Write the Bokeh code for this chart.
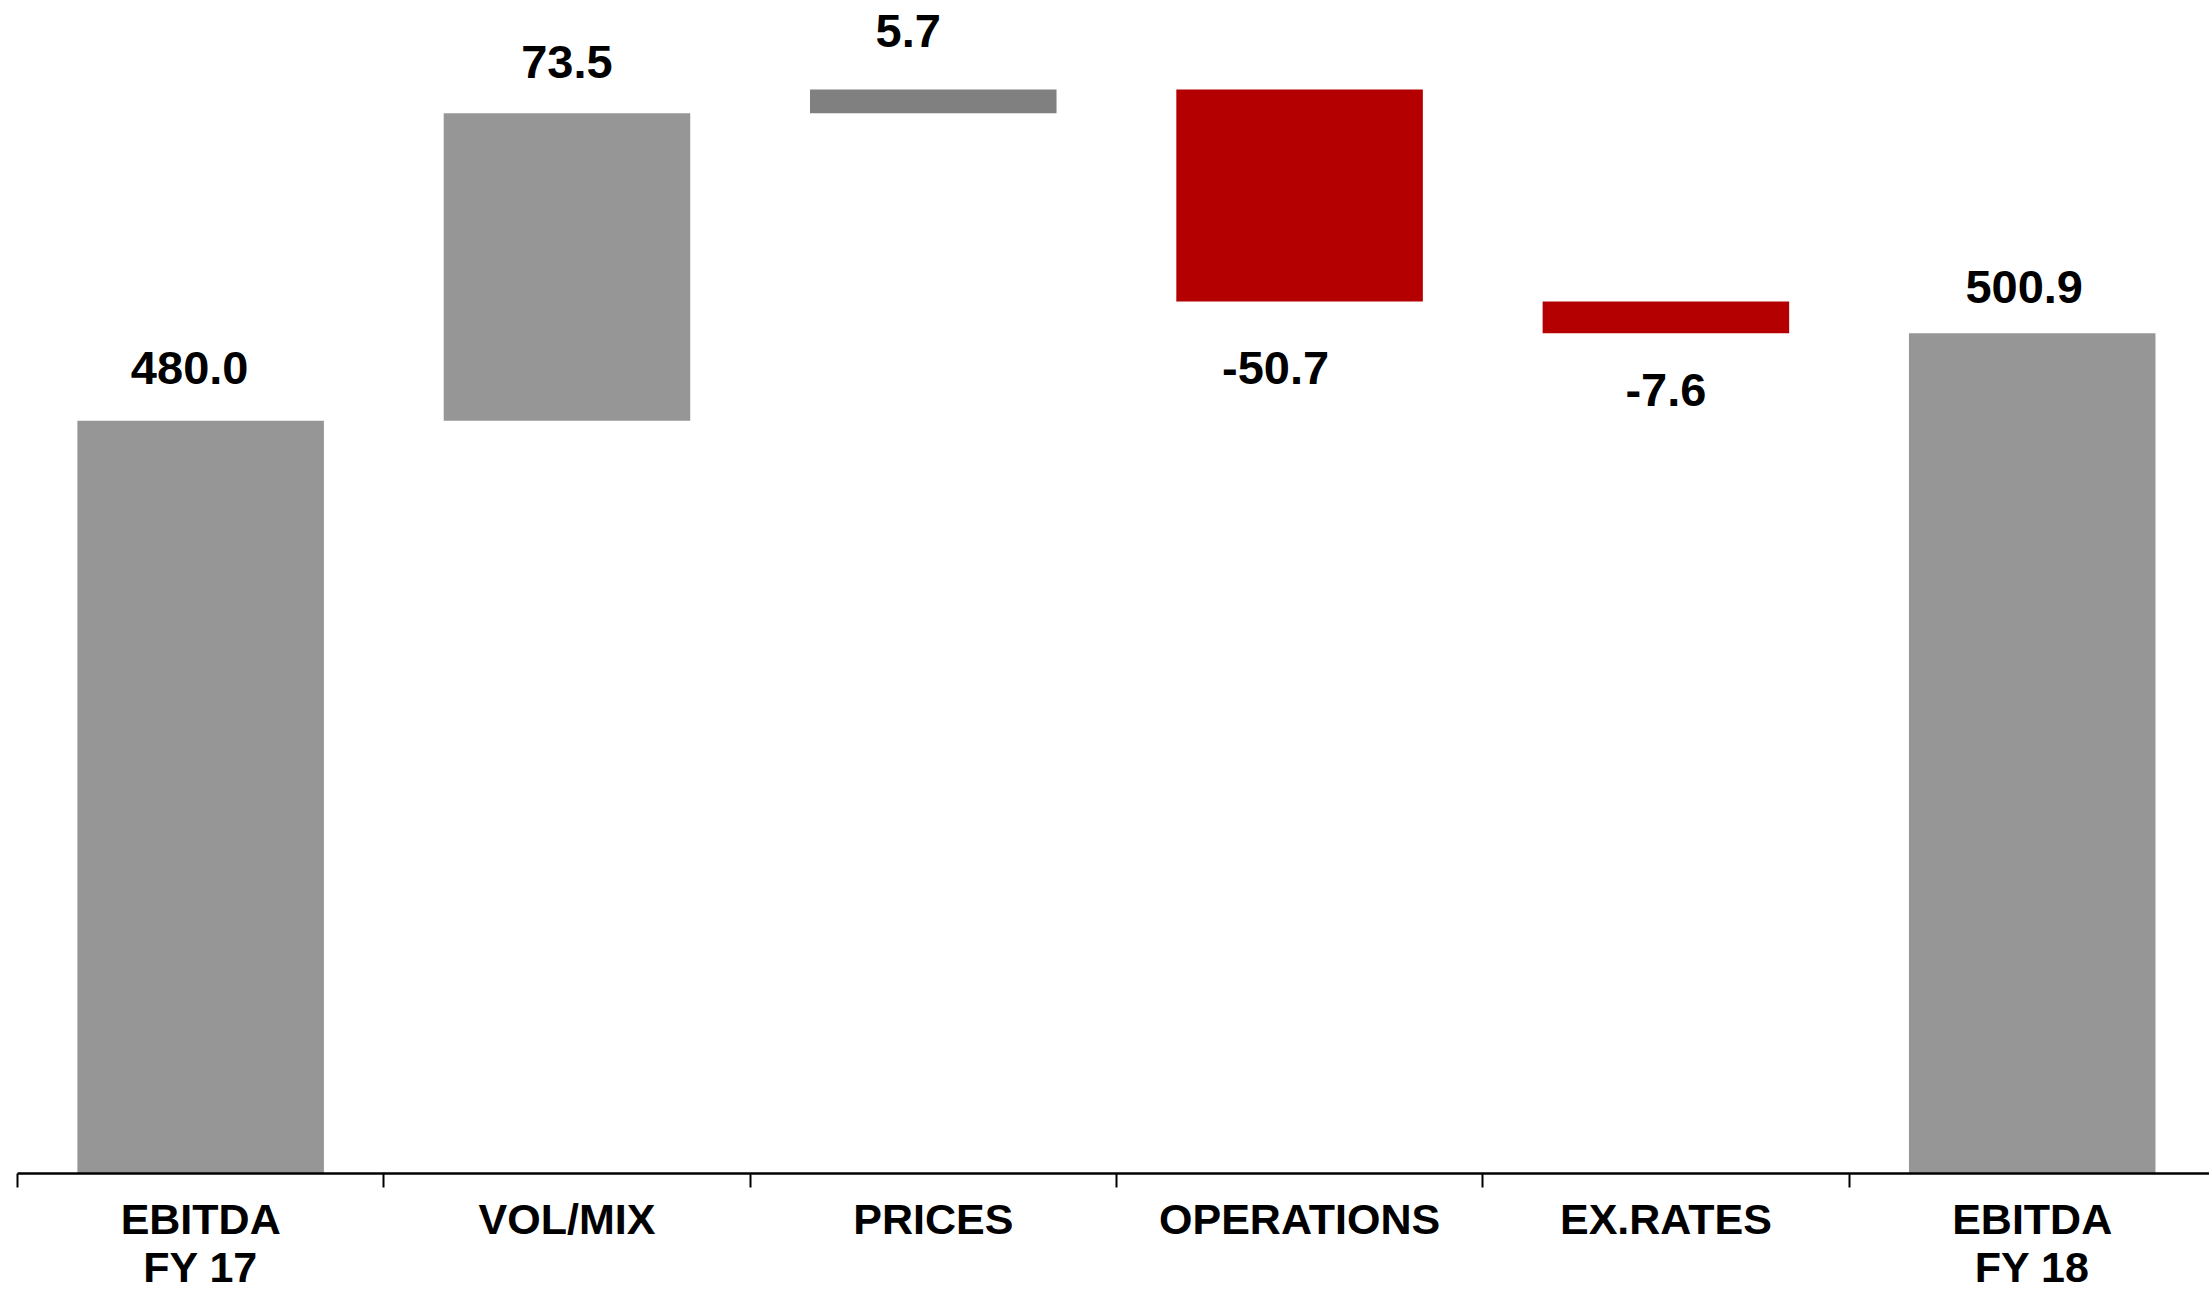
from bokeh.plotting import figure
from bokeh.models import ColumnDataSource, Range1d, FixedTicker
from bokeh.core.properties import value
from bokeh.embed import file_html
from bokeh.resources import INLINE

# ---- data ----
categories = ["EBITDA\nFY 17", "VOL/MIX", "PRICES", "OPERATIONS", "EX.RATES", "EBITDA\nFY 18"]
amounts = [480.0, 73.5, 5.7, -50.7, -7.6, 500.9]
is_total = [True, False, False, False, False, True]
bar_colors = ["#969696", "#969696", "#808080", "#B40000", "#B40000", "#969696"]
label_dx = [-11, 0, -25, -24, 0, -8]      # label nudges in px (style)
label_dy = [-53, -51, -58, 67, 57, -46]   # label offsets in px (style)

# ---- waterfall geometry from data ----
n = len(categories)
centers = [i + 0.5 for i in range(n)]
bottoms, tops = [], []
running = 0.0
for a, t in zip(amounts, is_total):
    if t:
        bottoms.append(0.0)
        tops.append(a)
        running = a
    else:
        lo, hi = sorted([running, running + a])
        bottoms.append(lo)
        tops.append(hi)
        running += a

labels = ["%.1f" % a for a in amounts]
anchor_y = [tops[i] if amounts[i] >= 0 else bottoms[i] for i in range(n)]

src = ColumnDataSource(dict(x=centers, bottom=bottoms, top=tops, color=bar_colors))
src_lab = ColumnDataSource(dict(x=centers, y=anchor_y, t=labels, dx=label_dx, dy=label_dy))

W, H = 2209, 1293
p = figure(width=W, height=H,
           x_range=Range1d(0, 5.984), y_range=Range1d(300, 580.45),
           output_backend="svg", toolbar_location=None,
           y_axis_location=None,
           min_border_left=17, min_border_right=0, min_border_top=0, min_border_bottom=0)
p.outline_line_color = None
p.xgrid.visible = False
p.ygrid.visible = False
p.background_fill_color = "white"
p.border_fill_color = "white"

p.vbar(x="x", bottom="bottom", top="top", width=0.673, fill_color="color",
       line_color=None, source=src)

p.text(x="x", y="y", text="t", source=src_lab, text_font=value("Liberation Sans"),
       text_font_style="bold", text_font_size="47px", text_align="center",
       text_baseline="alphabetic", x_offset="dx", y_offset="dy", text_color="black")

ax = p.xaxis[0]
ax.ticker = FixedTicker(ticks=centers, minor_ticks=list(range(n + 1)))
ax.major_label_overrides = {c: lab for c, lab in zip(centers, categories)}
ax.major_tick_out = 0
ax.major_tick_in = 0
ax.minor_tick_out = 14
ax.minor_tick_in = 0
ax.minor_tick_line_color = "black"
ax.minor_tick_line_width = 2
ax.axis_line_color = "black"
ax.axis_line_width = 2.5
ax.major_label_text_font = "Liberation Sans"
ax.major_label_text_font_style = "bold"
ax.major_label_text_font_size = "43px"
ax.major_label_text_line_height = 1.0
ax.major_label_text_color = "black"
ax.major_label_standoff = 7

open("out.html", "w").write(file_html(p, INLINE))
